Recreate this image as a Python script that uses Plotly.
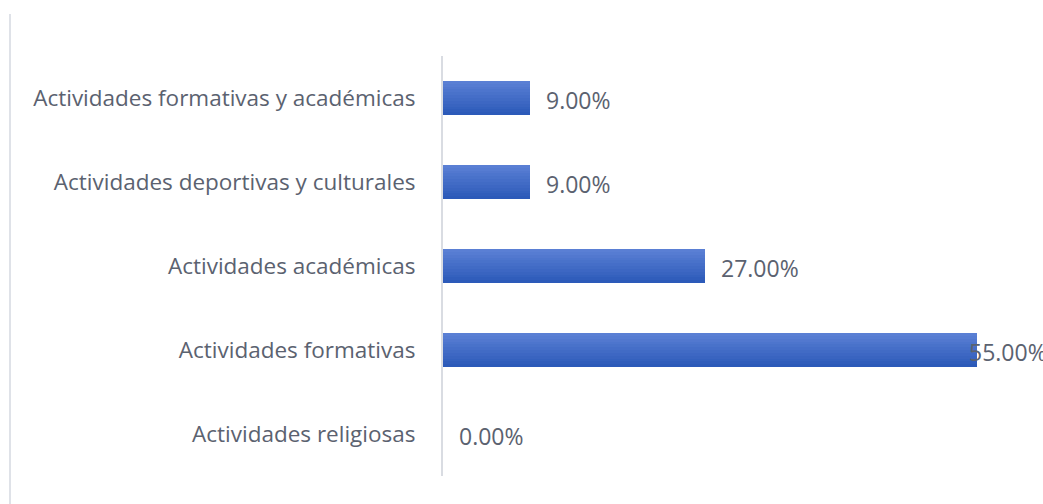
import plotly.graph_objects as go

# Categories listed top to bottom
categories = [
    "Actividades formativas y académicas",
    "Actividades deportivas y culturales",
    "Actividades académicas",
    "Actividades formativas",
    "Actividades religiosas",
]
percentages = [9.0, 9.0, 27.0, 55.0, 0.0]
value_labels = ["9.00%", "9.00%", "27.00%", "55.00%", "0.00%"]

FONT = "Open Sans"
TEXT_COLOR = "#5b6270"
BAR_WIDTH = 0.405
N_SLICES = 12
TOP_RGB = (90, 127, 212)
BOTTOM_RGB = (44, 90, 185)

fig = go.Figure()

# Draw each bar as thin stacked slices so the fill fades from light (top) to dark (bottom)
slice_w = BAR_WIDTH / N_SLICES
for i in range(N_SLICES):
    t = i / (N_SLICES - 1)
    rgb = tuple(round(a + (b - a) * t) for a, b in zip(TOP_RGB, BOTTOM_RGB))
    fig.add_trace(go.Bar(
        x=percentages,
        y=categories,
        orientation="h",
        width=slice_w * 1.02,
        offset=-BAR_WIDTH / 2 + i * slice_w,
        marker=dict(color="rgb(%d,%d,%d)" % rgb, line=dict(width=0)),
        hoverinfo="skip",
        showlegend=False,
    ))

# Value labels just past the end of each bar
label_shift = [14, 14, 14, -10, 14]
for cat, val, txt, dx in zip(categories, percentages, value_labels, label_shift):
    fig.add_annotation(
        x=val, y=cat, text=txt, showarrow=False,
        xanchor="left", yanchor="middle", xshift=dx, yshift=-2,
        font=dict(family=FONT, size=23, color=TEXT_COLOR),
    )

# Chart frame edge on the left
fig.add_shape(
    type="line", xref="paper", yref="paper",
    x0=(10 - 443) / 583, x1=(10 - 443) / 583,
    y0=(504 - 28 - 14) / 420, y1=-28 / 420,
    line=dict(color="#dfe2e8", width=2),
)

fig.update_layout(
    width=1043, height=504,
    margin=dict(l=443, r=17, t=56, b=28),
    paper_bgcolor="white", plot_bgcolor="white",
    barmode="overlay", bargap=0,
    xaxis=dict(range=[0, 60], showgrid=False, zeroline=False,
               showticklabels=False, showline=False, fixedrange=True),
    yaxis=dict(
        range=[4.5, -0.5], showgrid=False, zeroline=False,
        showline=True, linecolor="#d9dce2", linewidth=2,
        ticks="", ticklabelstandoff=21,
        tickfont=dict(family=FONT, size=22.5, color=TEXT_COLOR),
        fixedrange=True,
    ),
)

fig.write_html("out.html")
